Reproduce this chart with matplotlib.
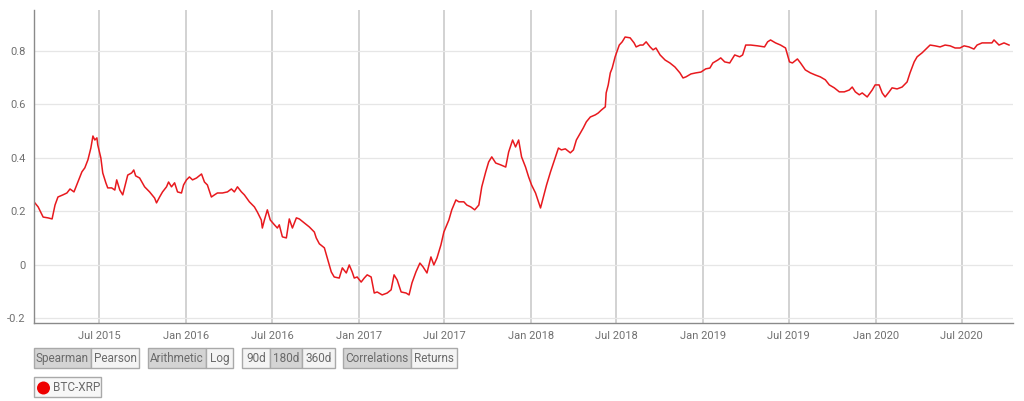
import numpy as np
import pandas as pd
import matplotlib
matplotlib.use('Agg')
import matplotlib.pyplot as plt
import matplotlib.dates as mdates
from matplotlib.patches import Rectangle, Ellipse

plt.rcParams['font.family'] = ['Roboto', 'DejaVu Sans']

# 180d Spearman correlation BTC-XRP (decimal year, value)
years = [
   2015.118, 2015.142, 2015.171, 2015.199, 2015.223, 2015.240, 2015.257, 2015.286, 2015.309, 2015.327,
   2015.350, 2015.373, 2015.396, 2015.413, 2015.431, 2015.448, 2015.460, 2015.471, 2015.483, 2015.488,
   2015.506, 2015.517, 2015.535, 2015.546, 2015.569, 2015.587, 2015.598, 2015.616, 2015.633, 2015.645,
   2015.662, 2015.685, 2015.697, 2015.708, 2015.731, 2015.760, 2015.789, 2015.818, 2015.829, 2015.847,
   2015.864, 2015.887, 2015.899, 2015.916, 2015.934, 2015.951, 2015.974, 2015.986, 2016.003, 2016.020,
   2016.038, 2016.061, 2016.090, 2016.107, 2016.124, 2016.147, 2016.165, 2016.182, 2016.211, 2016.240,
   2016.263, 2016.280, 2016.298, 2016.321, 2016.338, 2016.367, 2016.396, 2016.413, 2016.436, 2016.442,
   2016.454, 2016.471, 2016.488, 2016.512, 2016.529, 2016.540, 2016.558, 2016.581, 2016.598, 2016.616,
   2016.639, 2016.656, 2016.685, 2016.714, 2016.743, 2016.754, 2016.772, 2016.801, 2016.818, 2016.841,
   2016.858, 2016.887, 2016.905, 2016.928, 2016.945, 2016.962, 2016.974, 2016.991, 2017.014, 2017.032,
   2017.049, 2017.072, 2017.090, 2017.107, 2017.136, 2017.165, 2017.188, 2017.205, 2017.223, 2017.246,
   2017.275, 2017.292, 2017.309, 2017.332, 2017.355, 2017.373, 2017.396, 2017.419, 2017.436, 2017.454,
   2017.477, 2017.494, 2017.506, 2017.523, 2017.540, 2017.564, 2017.581, 2017.610, 2017.627, 2017.650,
   2017.673, 2017.697, 2017.714, 2017.737, 2017.754, 2017.772, 2017.795, 2017.824, 2017.853, 2017.870,
   2017.893, 2017.910, 2017.928, 2017.945, 2017.968, 2017.986, 2018.003, 2018.026, 2018.055, 2018.072,
   2018.090, 2018.113, 2018.130, 2018.159, 2018.176, 2018.199, 2018.228, 2018.246, 2018.263, 2018.286,
   2018.303, 2018.321, 2018.344, 2018.373, 2018.390, 2018.408, 2018.431, 2018.436, 2018.448, 2018.460,
   2018.471, 2018.488, 2018.512, 2018.529, 2018.546, 2018.575, 2018.598, 2018.610, 2018.633, 2018.650,
   2018.668, 2018.691, 2018.708, 2018.725, 2018.749, 2018.778, 2018.806, 2018.835, 2018.864, 2018.882,
   2018.899, 2018.928, 2018.957, 2018.986, 2019.014, 2019.038, 2019.055, 2019.084, 2019.101, 2019.124,
   2019.153, 2019.182, 2019.211, 2019.228, 2019.246, 2019.275, 2019.315, 2019.355, 2019.373, 2019.390,
   2019.419, 2019.448, 2019.477, 2019.500, 2019.517, 2019.546, 2019.564, 2019.592, 2019.621, 2019.650,
   2019.679, 2019.708, 2019.731, 2019.760, 2019.789, 2019.818, 2019.847, 2019.864, 2019.882, 2019.905,
   2019.922, 2019.951, 2019.980, 2019.997, 2020.020, 2020.038, 2020.055, 2020.078, 2020.095, 2020.124,
   2020.153, 2020.182, 2020.199, 2020.223, 2020.240, 2020.269, 2020.298, 2020.315, 2020.344, 2020.373,
   2020.402, 2020.431, 2020.460, 2020.488, 2020.512, 2020.540, 2020.569, 2020.587, 2020.616, 2020.645,
   2020.673, 2020.685, 2020.714, 2020.743, 2020.772,
]
corr = [
   0.236, 0.217, 0.179, 0.176, 0.172, 0.224, 0.254, 0.262, 0.269, 0.284,
   0.273, 0.310, 0.348, 0.363, 0.393, 0.437, 0.482, 0.467, 0.475, 0.449,
   0.400, 0.344, 0.307, 0.288, 0.288, 0.280, 0.318, 0.280, 0.262, 0.292,
   0.336, 0.344, 0.355, 0.333, 0.325, 0.292, 0.273, 0.250, 0.232, 0.254,
   0.273, 0.292, 0.310, 0.292, 0.307, 0.273, 0.269, 0.299, 0.318, 0.329,
   0.318, 0.325, 0.340, 0.310, 0.299, 0.254, 0.262, 0.269, 0.269, 0.273,
   0.284, 0.273, 0.292, 0.273, 0.262, 0.236, 0.217, 0.198, 0.168, 0.138,
   0.168, 0.206, 0.168, 0.150, 0.138, 0.150, 0.105, 0.101, 0.172, 0.138,
   0.176, 0.172, 0.157, 0.142, 0.123, 0.101, 0.079, 0.064, 0.026, -0.026,
   -0.045, -0.049, -0.011, -0.030, 0.000, -0.026, -0.049, -0.045, -0.064, -0.049,
   -0.037, -0.045, -0.105, -0.101, -0.112, -0.105, -0.093, -0.037, -0.056, -0.101,
   -0.105, -0.112, -0.067, -0.026, 0.007, -0.007, -0.030, 0.030, 0.000, 0.026,
   0.075, 0.123, 0.142, 0.168, 0.206, 0.243, 0.236, 0.236, 0.224, 0.217,
   0.206, 0.224, 0.292, 0.348, 0.385, 0.404, 0.381, 0.374, 0.366, 0.422,
   0.467, 0.441, 0.467, 0.404, 0.366, 0.329, 0.299, 0.269, 0.213, 0.254,
   0.299, 0.348, 0.381, 0.437, 0.430, 0.434, 0.419, 0.430, 0.467, 0.493,
   0.512, 0.535, 0.553, 0.561, 0.568, 0.579, 0.591, 0.643, 0.673, 0.718,
   0.736, 0.778, 0.822, 0.834, 0.852, 0.849, 0.830, 0.815, 0.822, 0.822,
   0.834, 0.815, 0.804, 0.811, 0.785, 0.766, 0.755, 0.740, 0.718, 0.699,
   0.703, 0.714, 0.718, 0.721, 0.733, 0.736, 0.755, 0.766, 0.774, 0.759,
   0.755, 0.785, 0.778, 0.785, 0.822, 0.822, 0.819, 0.815, 0.834, 0.841,
   0.830, 0.822, 0.811, 0.759, 0.755, 0.770, 0.755, 0.729, 0.718, 0.710,
   0.703, 0.692, 0.673, 0.662, 0.647, 0.647, 0.654, 0.665, 0.647, 0.636,
   0.643, 0.628, 0.654, 0.673, 0.673, 0.643, 0.628, 0.647, 0.662, 0.658,
   0.665, 0.684, 0.718, 0.759, 0.778, 0.793, 0.811, 0.822, 0.819, 0.815,
   0.822, 0.819, 0.811, 0.811, 0.819, 0.815, 0.807, 0.822, 0.830, 0.830,
   0.830, 0.841, 0.822, 0.830, 0.822,
]

x_ticks = ['2015-07-01', '2016-01-01', '2016-07-01', '2017-01-01', '2017-07-01', '2018-01-01',
           '2018-07-01', '2019-01-01', '2019-07-01', '2020-01-01', '2020-07-01']
y_ticks = [-0.2, 0, 0.2, 0.4, 0.6, 0.8]
y_labels = ['-0.2', '0', '0.2', '0.4', '0.6', '0.8']

# button rows under the chart: (label, left px, right px, selected)
buttons = [
   ('Spearman', 34, 91, True), ('Pearson', 91, 139, False),
   ('Arithmetic', 148, 206, True), ('Log', 206, 233, False),
   ('90d', 242, 270, False), ('180d', 270, 302, True), ('360d', 302, 335, False),
   ('Correlations', 343, 411, True), ('Returns', 411, 457, False),
]
series_name = 'BTC-XRP'


def year_to_date(t):
   y = int(t)
   start = pd.Timestamp(year=y, month=1, day=1)
   end = pd.Timestamp(year=y + 1, month=1, day=1)
   return start + (end - start) * (t - y)


dates = [year_to_date(t) for t in years]

W, H = 1024, 401
fig = plt.figure(figsize=(W / 100, H / 100), dpi=100)
ax = fig.add_axes([34 / W, 1 - 323 / H, (1013 - 34) / W, (323 - 10) / H])

ax.plot(dates, corr, color='#e8191e', lw=1.1)

ax.set_xlim(year_to_date(2015.118), year_to_date(2020.795))
ax.set_ylim(-0.217, 0.953)
ax.set_xticks([pd.Timestamp(d) for d in x_ticks])
ax.xaxis.set_major_formatter(mdates.DateFormatter('%b %Y'))
ax.set_yticks(y_ticks)
ax.set_yticklabels(y_labels)

ax.grid(axis='x', color='#cfcfcf', lw=1.3)
ax.grid(axis='y', color='#e6e6e6', lw=0.9)
ax.set_axisbelow(True)
for s in ['top', 'right']:
   ax.spines[s].set_visible(False)
for s in ['left', 'bottom']:
   ax.spines[s].set_color('#8a8a8a')
   ax.spines[s].set_linewidth(1.0)
ax.tick_params(length=0, labelsize=8, colors='#707070', pad=6)

# buttons
for label, x0, x1, sel in buttons:
   face = '#d4d4d4' if sel else '#f4f4f4'
   fig.add_artist(Rectangle((x0 / W, 1 - 368 / H), (x1 - x0) / W, 20 / H,
                            transform=fig.transFigure, facecolor=face,
                            edgecolor='#a9a9a9', lw=1.0))
   fig.text((x0 + x1) / 2 / W, 1 - 358.5 / H, label, ha='center', va='center',
            fontsize=8.5, color='#6a6a6a')

# legend box
fig.add_artist(Rectangle((34 / W, 1 - 397 / H), 67 / W, 20 / H, transform=fig.transFigure,
                         facecolor='#f7f7f7', edgecolor='#a9a9a9', lw=1.0))
fig.add_artist(Ellipse((43.5 / W, 1 - 388 / H), 13 / W, 13 / H, transform=fig.transFigure,
                       facecolor='#ee0000', edgecolor='none'))
fig.text(53 / W, 1 - 387.5 / H, series_name, ha='left', va='center', fontsize=8.5,
         color='#6a6a6a')

fig.savefig('out.png', dpi=100)
